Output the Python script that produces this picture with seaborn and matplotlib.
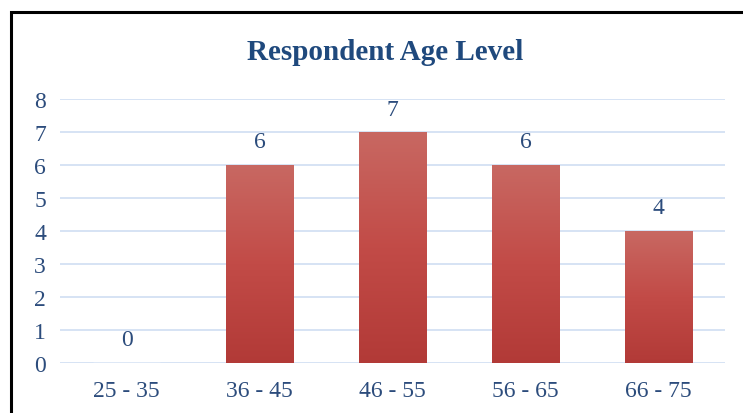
import numpy as np
import pandas as pd
import matplotlib
matplotlib.use("Agg")
import matplotlib.pyplot as plt
from matplotlib.patches import Rectangle
from matplotlib.colors import LinearSegmentedColormap
import seaborn as sns

# data
age_groups = ["25 - 35", "36 - 45", "46 - 55", "56 - 65", "66 - 75"]
respondents = [0, 6, 7, 6, 4]
y_ticks = [0, 1, 2, 3, 4, 5, 6, 7, 8]

df = pd.DataFrame({"Age": age_groups, "Count": respondents})

sns.set_style("white")
plt.rcParams["font.family"] = ["Liberation Serif", "DejaVu Serif"]

text_blue = "#2C4C7C"
title_blue = "#1F497D"
grid_blue = "#D3E0F3"

fig = plt.figure(figsize=(7.43, 4.14), dpi=100)
ax = fig.add_axes([60 / 743, 1 - 364 / 414, 665 / 743, 264 / 414])

sns.barplot(data=df, x="Age", y="Count", color="#C0504D", width=0.51,
            ax=ax, zorder=3)

# gradient fill for the bars
cmap = LinearSegmentedColormap.from_list("bar", ["#B23A37", "#C24B47", "#C86862"])
grad = np.linspace(0, 1, 256).reshape(-1, 1)
for p in list(ax.patches):
    x0, y0 = p.get_x(), p.get_y()
    w, h = p.get_width(), p.get_height()
    if h <= 0:
        continue
    p.set_facecolor("none")
    p.set_edgecolor("none")
    im = ax.imshow(grad, cmap=cmap, origin="lower", aspect="auto",
                   extent=[x0, x0 + w, y0, y0 + h], zorder=3)
    im.set_clip_path(p)

ax.set_xlim(-0.5, len(age_groups) - 0.5)
ax.set_ylim(0, 8)
ax.set_yticks(y_ticks)
ax.yaxis.grid(True, color=grid_blue, linewidth=1.3, zorder=0)
ax.set_axisbelow(True)
sns.despine(ax=ax, left=True, bottom=True, top=True, right=True)

ax.tick_params(axis="y", length=0, pad=10, labelsize=17, labelcolor=text_blue)
ax.tick_params(axis="x", length=0, pad=12, labelsize=17, labelcolor=text_blue)
ax.set_xlabel("")
ax.set_ylabel("")

# data labels
for i, v in enumerate(respondents):
    ax.annotate(str(v), (i, v), xytext=(0, 9), textcoords="offset points",
                ha="center", va="bottom", fontsize=17, color=text_blue)

fig.text(385 / 743, 1 - 52 / 414, "Respondent Age Level", ha="center",
         va="center", fontsize=21, fontweight="bold", color=title_blue)

# chart border (cropped at right and bottom)
fig.patches.append(Rectangle((11 / 743, -0.2), 1.3, 0.2 + (1 - 13 / 414),
                             transform=fig.transFigure, fill=False,
                             edgecolor="black", linewidth=2.2))

fig.savefig("out.png", dpi=100)
